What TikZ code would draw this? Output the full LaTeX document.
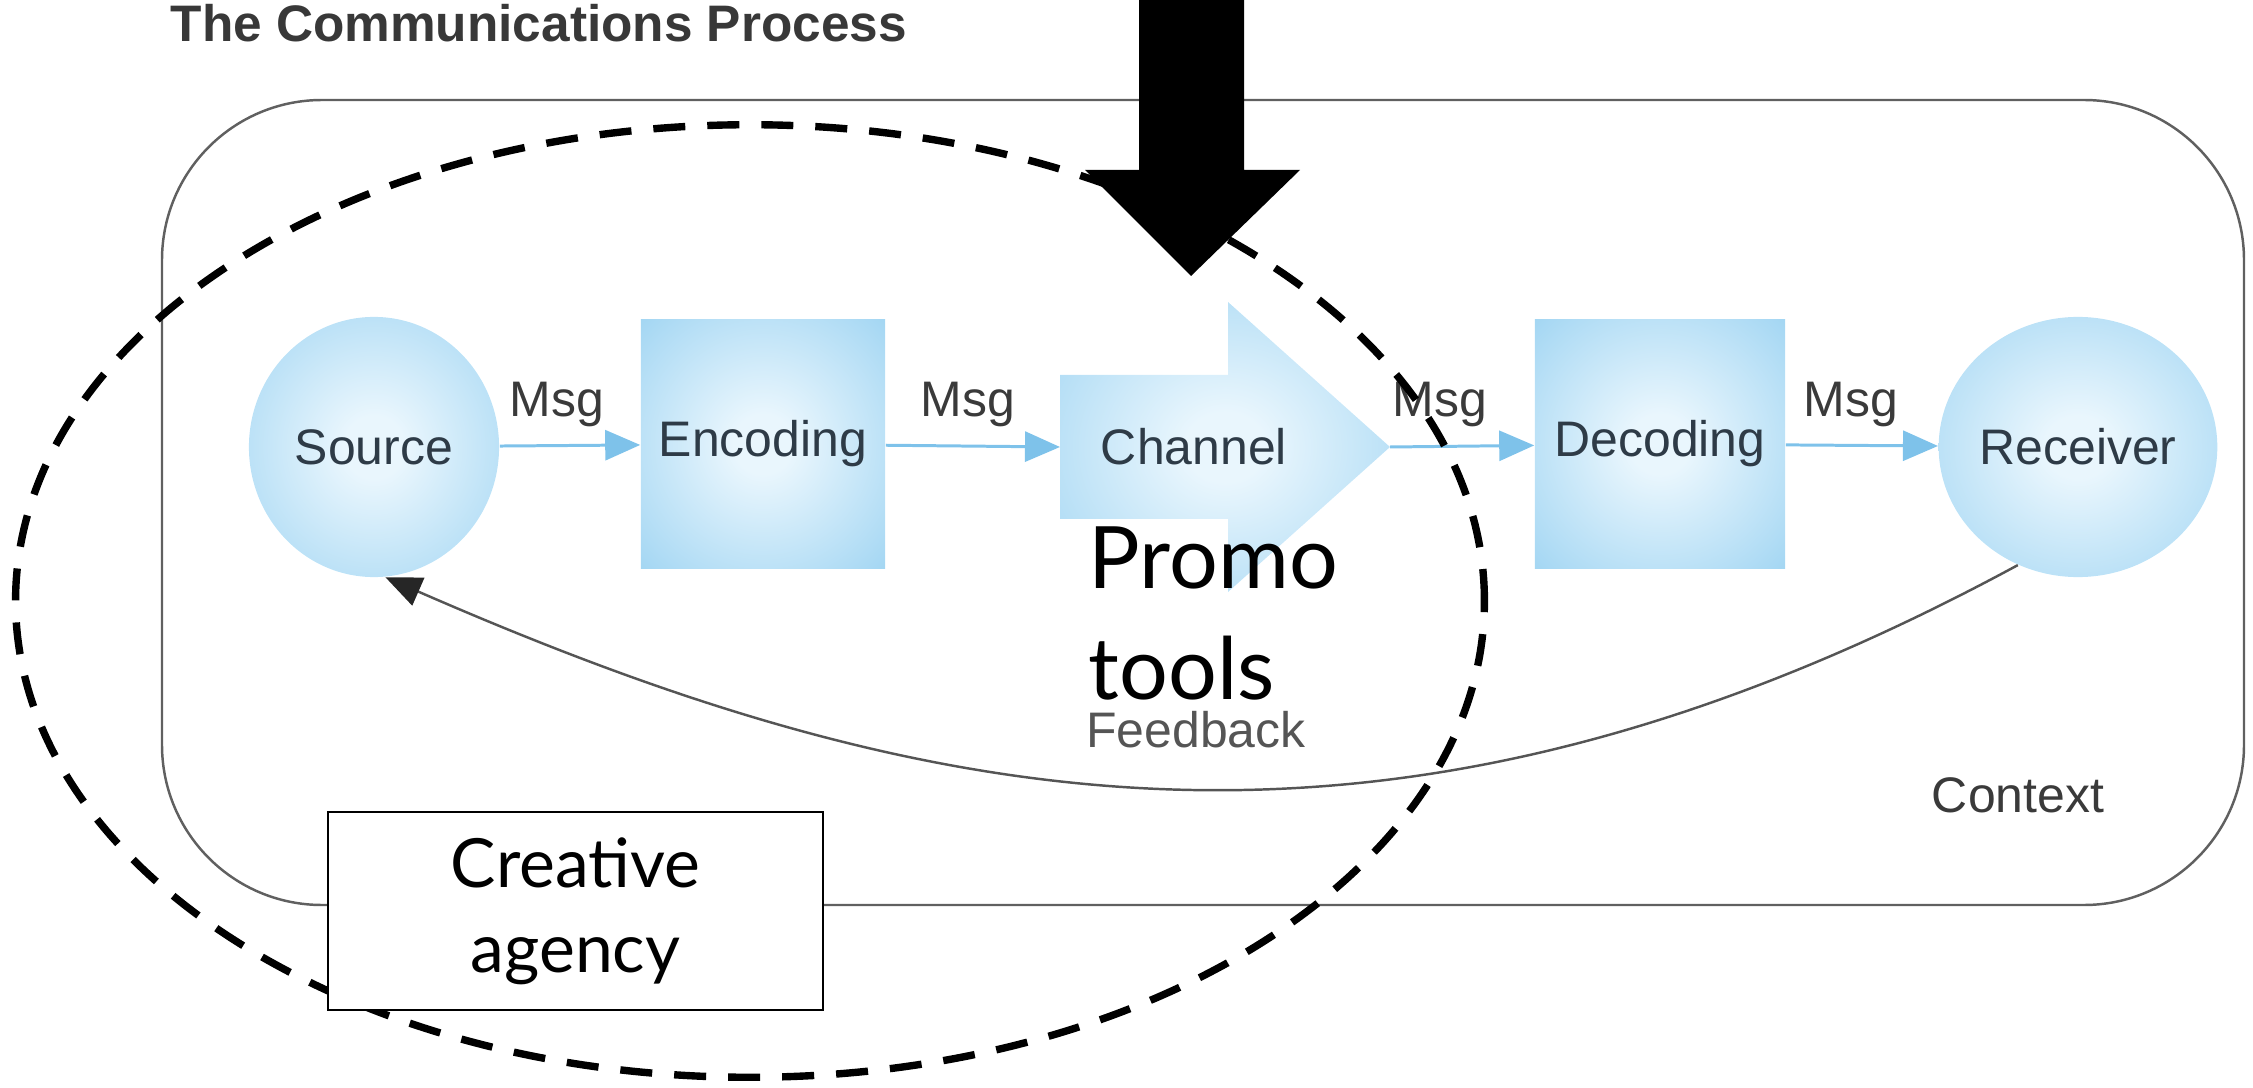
\documentclass[tikz,border=0pt]{standalone}
\usepackage{fontspec}
\setmainfont{Liberation Sans}
\newfontfamily\gillfont{Lato}
\usetikzlibrary{arrows.meta,shapes.geometric}
\definecolor{bluein}{HTML}{E9F6FD}
\definecolor{blueout}{HTML}{8FCDF0}
\definecolor{bluedeep}{HTML}{6CBBE8}
\definecolor{lineblue}{HTML}{7EC2EA}
\definecolor{labeldark}{HTML}{2E3B47}
\definecolor{msggray}{HTML}{3A3A3A}
\definecolor{fbgray}{HTML}{555555}
\definecolor{ctxgray}{HTML}{606060}
\pgfdeclareradialshading{bluerad}{\pgfpoint{0bp}{0bp}}{color(0bp)=(bluein); color(6bp)=(bluein); color(44bp)=(blueout); color(72bp)=(bluedeep)}
\tikzset{
  lbl/.style={font=\fontsize{14.2}{17}\selectfont, text=labeldark},
  bluecirc/.style={ellipse, shading=bluerad, minimum width=2.5cm, minimum height=2.6cm, inner sep=0pt, lbl},
  bluebox/.style={rectangle, shading=bluerad, minimum height=2.49cm, inner sep=0pt, lbl},
  msgarrow/.style={draw=lineblue, line width=0.85pt, -{Triangle[length=0.35cm,width=0.3cm]}},
  msglbl/.style={font=\fontsize{14.2}{17}\selectfont, text=msggray, anchor=base},
  fbarrow/.style={draw=fbgray, line width=0.7pt, -{Triangle[length=0.36cm,width=0.3cm,color=black!85]}},
  ctxbox/.style={draw=ctxgray, line width=0.7pt, rounded corners=1.6cm},
  bigdash/.style={draw=black, line width=2.1pt, dash pattern=on 0.32cm off 0.22cm},
  promo/.style={font=\gillfont\fontsize{24.5}{31.3}\selectfont, text=black},
  agency/.style={draw=black, fill=white, line width=0.7pt, minimum width=4.95cm, minimum height=1.98cm, inner sep=0pt, align=center, font=\gillfont\fontsize{19.3}{24.2}\selectfont},
}
\begin{document}
\begin{tikzpicture}[x=0.01cm, y=-0.01cm]
\useasboundingbox (0,0) rectangle (2253,1088);
% title
\node[anchor=base west, inner sep=0pt, font=\fontsize{14.6}{17}\bfseries\selectfont, text=black!78] (title) at (170,42) {The Communications Process};
% context frame
\draw[ctxbox] (162,100) rectangle (2244,905);
% process nodes
\node[bluecirc] (src) at (374,447) {Source};
\node[bluebox, minimum width=2.44cm] (enc) at (763,444) {Encoding};
\shade[shading=bluerad] (1060,375) -- (1228,375) -- (1228,302) -- (1390,447) -- (1228,592) -- (1228,519) -- (1060,519) -- cycle;
\coordinate (chanL) at (1060,447);
\coordinate (chanR) at (1390,447);
\node[lbl] (chan) at (1194,447) {Channel};
\node[bluebox, minimum width=2.50cm] (dec) at (1660,444) {Decoding};
\node[bluecirc] (rec) at (2078,447) {Receiver};
% connectors
\draw[msgarrow] (src) -- (enc);
\draw[msgarrow] (enc) -- (chanL);
\draw[msgarrow] (chanR) -- (dec);
\draw[msgarrow] (dec) -- (rec);
\node[msglbl] (m1) at (557,417) {Msg};
\node[msglbl] (m2) at (968,417) {Msg};
\node[msglbl] (m3) at (1440,417) {Msg};
\node[msglbl] (m4) at (1851,417) {Msg};
% feedback
\draw[fbarrow] (rec.243) .. controls (1390,905) and (930,815) .. (src.275);
\node[msglbl, text=fbgray] (fb) at (1196,747) {Feedback};
\node[msglbl] (ctx) at (2018,812) {Context};
% dashed ellipse
\draw[bigdash] (750,601) ellipse [x radius=7.34cm, y radius=4.76cm];
% black arrow
\fill[black] (1139,0) -- (1244,0) -- (1244,170) -- (1300,170) -- (1191,276) -- (1085,170) -- (1139,170) -- cycle;
% promo tools
\node[promo, anchor=base west, inner sep=0pt, align=left] (promo) at (1088,699) {Promo\\tools};
% creative agency
\node[agency] (agency) at (575.5,911) {Creative\\agency};
\end{tikzpicture}
\end{document}
